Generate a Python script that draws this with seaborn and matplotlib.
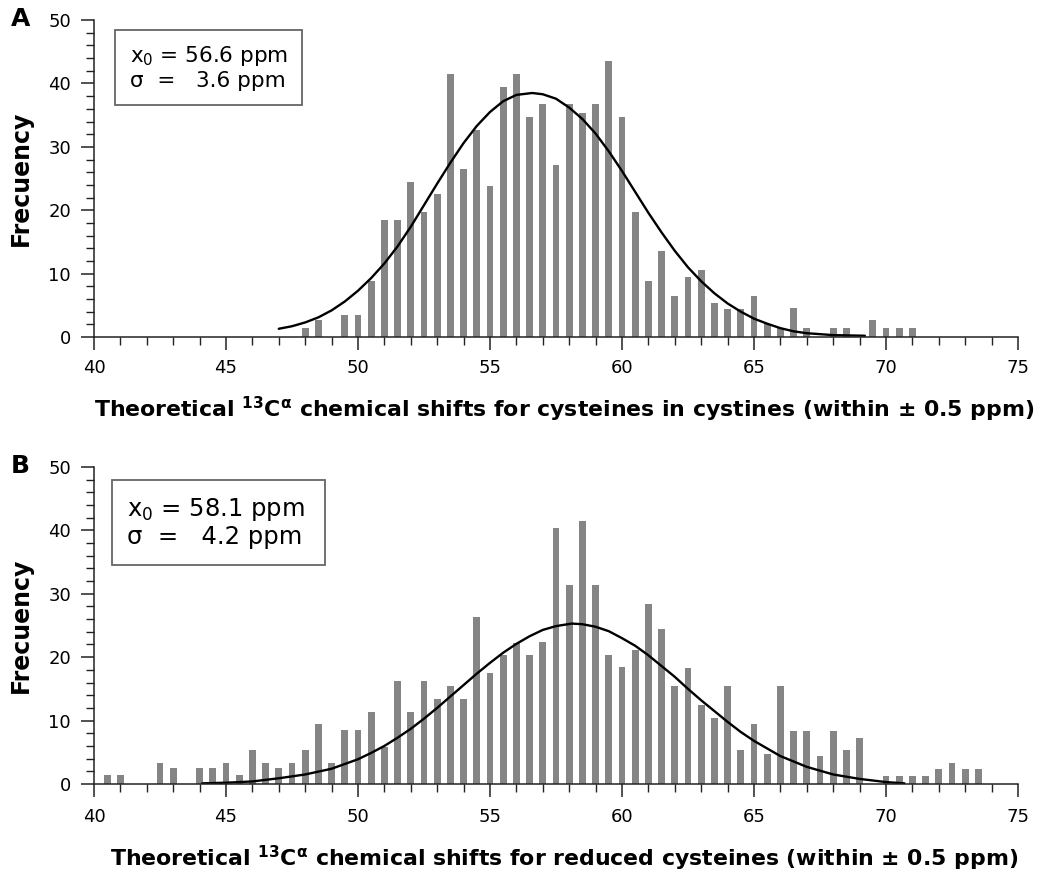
import matplotlib
matplotlib.use("Agg")

import matplotlib.pyplot as plt
from matplotlib.patches import Rectangle
from matplotlib.ticker import MultipleLocator
import seaborn as sns

# -----------------------------
# Data
# -----------------------------

# panel A: cysteines in cystines
shift_a = [48.0, 48.5, 49.5, 50.0, 50.5, 51.0, 51.5, 52.0, 52.5, 53.0,
           53.5, 54.0, 54.5, 55.0, 55.5, 56.0, 56.5, 57.0, 57.5, 58.0,
           58.5, 59.0, 59.5, 60.0, 60.5, 61.0, 61.5, 62.0, 62.5, 63.0,
           63.5, 64.0, 64.5, 65.0, 65.5, 66.0, 66.5, 67.0, 68.0, 68.5,
           69.5, 70.0, 70.5, 71.0]
freq_a = [1.4, 2.7, 3.4, 3.4, 8.8, 18.4, 18.4, 24.5, 19.7, 22.5,
          41.5, 26.5, 32.7, 23.8, 39.5, 41.5, 34.7, 36.7, 27.2, 36.7,
          35.4, 36.7, 43.5, 34.7, 19.7, 8.8, 13.6, 6.5, 9.5, 10.5,
          5.4, 4.4, 4.4, 6.5, 2.0, 1.4, 4.6, 1.4, 1.4, 1.4,
          2.7, 1.4, 1.4, 1.4]

fit_x_a = [47.0, 47.5, 48.0, 48.5, 49.0, 49.5, 50.0, 50.5, 51.0, 51.5,
           52.0, 52.5, 53.0, 53.5, 54.0, 54.5, 55.0, 55.5, 56.0, 56.6,
           57.0, 57.5, 58.0, 58.5, 59.0, 59.5, 60.0, 60.5, 61.0, 61.5,
           62.0, 62.5, 63.0, 63.5, 64.0, 64.5, 65.0, 65.5, 66.0, 66.5,
           67.0, 68.0, 69.2]
fit_y_a = [1.3, 1.7, 2.3, 3.1, 4.2, 5.6, 7.3, 9.3, 11.6, 14.3,
           17.4, 20.8, 24.2, 27.5, 30.6, 33.3, 35.5, 37.2, 38.2, 38.5,
           38.3, 37.6, 36.2, 34.4, 32.1, 29.3, 26.2, 22.9, 19.6, 16.5,
           13.6, 11.0, 8.8, 6.9, 5.3, 4.0, 2.9, 2.1, 1.4, 0.9,
           0.6, 0.3, 0.2]

# panel B: reduced cysteines
shift_b = [40.5, 41.0, 42.5, 43.0, 44.0, 44.5, 45.0, 45.5, 46.0, 46.5,
           47.0, 47.5, 48.0, 48.5, 49.0, 49.5, 50.0, 50.5, 51.0, 51.5,
           52.0, 52.5, 53.0, 53.5, 54.0, 54.5, 55.0, 55.5, 56.0, 56.5,
           57.0, 57.5, 58.0, 58.5, 59.0, 59.5, 60.0, 60.5, 61.0, 61.5,
           62.0, 62.5, 63.0, 63.5, 64.0, 64.5, 65.0, 65.5, 66.0, 66.5,
           67.0, 67.5, 68.0, 68.5, 69.0, 70.0, 70.5, 71.0, 71.5, 72.0,
           72.5, 73.0, 73.5]
freq_b = [1.4, 1.4, 3.3, 2.5, 2.5, 2.5, 3.3, 1.4, 5.4, 3.3,
          2.5, 3.3, 5.4, 9.4, 3.3, 8.5, 8.5, 11.4, 5.8, 16.3,
          11.4, 16.3, 13.4, 15.4, 13.4, 26.4, 17.5, 20.4, 22.2, 20.4,
          22.4, 40.4, 31.4, 41.5, 31.4, 20.4, 18.4, 21.1, 28.4, 24.4,
          15.4, 18.3, 12.5, 10.4, 15.4, 5.4, 9.4, 4.7, 15.4, 8.4,
          8.4, 4.4, 8.4, 5.3, 7.3, 1.3, 1.3, 1.3, 1.3, 2.4,
          3.3, 2.4, 2.4]

fit_x_b = [44.1, 45.0, 46.0, 47.0, 48.0, 49.0, 50.0, 50.5, 51.0, 51.5,
           52.0, 52.5, 53.0, 53.5, 54.0, 54.5, 55.0, 55.5, 56.0, 56.5,
           57.0, 57.5, 58.1, 58.5, 59.0, 59.5, 60.0, 60.5, 61.0, 61.5,
           62.0, 62.5, 63.0, 63.5, 64.0, 64.5, 65.0, 66.0, 67.0, 68.0,
           69.0, 70.0, 70.7]
fit_y_b = [0.1, 0.2, 0.4, 0.9, 1.5, 2.4, 3.9, 4.9, 6.0, 7.3,
           8.7, 10.3, 12.0, 13.8, 15.6, 17.4, 19.1, 20.7, 22.1, 23.3,
           24.3, 24.9, 25.3, 25.2, 24.8, 24.1, 23.0, 21.8, 20.3, 18.6,
           16.9, 15.0, 13.2, 11.5, 9.8, 8.2, 6.8, 4.4, 2.7, 1.5,
           0.8, 0.3, 0.1]

label_a = (r"Theoretical $^{\mathbf{13}}$C$^{\mathbf{\alpha}}$ chemical shifts "
           r"for cysteines in cystines (within $\mathbf{\pm}$ 0.5 ppm)")
label_b = (r"Theoretical $^{\mathbf{13}}$C$^{\mathbf{\alpha}}$ chemical shifts "
           r"for reduced cysteines (within $\mathbf{\pm}$ 0.5 ppm)")
note_a = "x$_0$ = 56.6 ppm\n\u03c3  =   3.6 ppm"
note_b = "x$_0$ = 58.1 ppm\n\u03c3  =   4.2 ppm"

# -----------------------------
# Figure
# -----------------------------

sns.set_style("ticks")
plt.rcParams["font.family"] = ["DejaVu Sans"]
plt.rcParams["mathtext.fontset"] = "dejavusans"
plt.rcParams["text.color"] = "black"
plt.rcParams["axes.labelcolor"] = "black"
plt.rcParams["xtick.color"] = "black"
plt.rcParams["ytick.color"] = "black"

fig = plt.figure(figsize=(10.5, 8.74), dpi=100)
ax_a = fig.add_axes([0.0895, 0.6144, 0.880, 0.3626])
ax_b = fig.add_axes([0.0895, 0.1030, 0.880, 0.3627])


def draw_panel(ax, shifts, freqs, fit_x, fit_y, xlabel, label_y, xpad,
               note, note_size, box):
    sns.histplot(
        x=shifts,
        weights=freqs,
        binwidth=0.5,
        binrange=(min(shifts) - 0.25, max(shifts) + 0.25),
        shrink=0.52,
        color="#858585",
        alpha=1,
        linewidth=0,
        ax=ax,
    )
    sns.lineplot(x=fit_x, y=fit_y, color="black", linewidth=1.7, ax=ax)

    ax.set_xlim(40, 75)
    ax.set_ylim(0, 50)
    ax.xaxis.set_major_locator(MultipleLocator(5))
    ax.xaxis.set_minor_locator(MultipleLocator(1))
    ax.yaxis.set_major_locator(MultipleLocator(10))
    ax.yaxis.set_minor_locator(MultipleLocator(2))
    ax.tick_params(which="major", length=9.5, width=1.1, direction="out",
                   labelsize=13, color="#222222")
    ax.tick_params(which="minor", length=5.5, width=1.0, direction="out",
                   color="#222222")
    ax.tick_params(axis="x", which="major", pad=xpad)
    ax.tick_params(axis="y", which="major", pad=7)
    for side in ["left", "bottom"]:
        ax.spines[side].set_linewidth(1.1)
        ax.spines[side].set_color("#222222")
    sns.despine(ax=ax)

    ax.set_xlabel(xlabel, fontsize=15.8, fontweight="bold", va="top")
    ax.xaxis.set_label_coords(0.509, label_y)
    ax.set_ylabel("Frecuency", fontsize=17, fontweight="bold")
    ax.yaxis.set_label_coords(-0.066, 0.5)

    # fit parameters box
    x0, y0, w, h = box
    ax.add_patch(Rectangle((x0, y0), w, h, transform=ax.transAxes,
                           facecolor="white", edgecolor="#666666",
                           linewidth=1.3, zorder=5))
    ax.text(x0 + 0.016, y0 + h / 2, note, transform=ax.transAxes,
            fontsize=note_size, va="center", ha="left", linespacing=1.15,
            zorder=6)


draw_panel(ax_a, shift_a, freq_a, fit_x_a, fit_y_a, label_a, -0.183, 6,
           note_a, 15.5, (0.0227, 0.732, 0.2023, 0.236))
draw_panel(ax_b, shift_b, freq_b, fit_x_b, fit_y_b, label_b, -0.190, 8,
           note_b, 17.5, (0.0195, 0.691, 0.2305, 0.268))

fig.text(0.010, 1 - 19 / 874, "A", fontsize=18, fontweight="bold",
         va="center", ha="left")
fig.text(0.010, 1 - 466 / 874, "B", fontsize=18, fontweight="bold",
         va="center", ha="left")

fig.savefig("out.png", dpi=100)
plt.close(fig)
